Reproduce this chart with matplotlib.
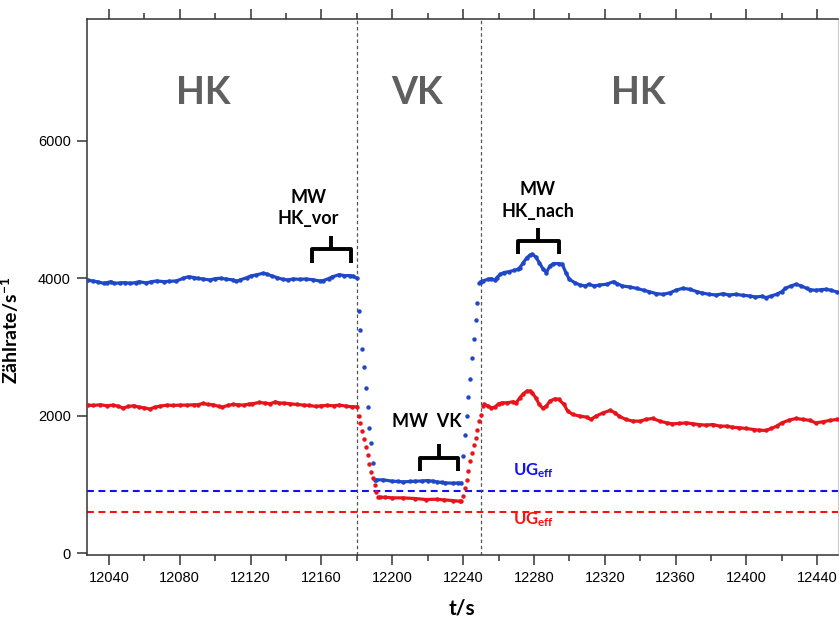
import matplotlib
matplotlib.use("Agg")
import matplotlib.pyplot as plt
from matplotlib.ticker import MultipleLocator

plt.rcParams['font.family'] = ['Liberation Sans', 'DejaVu Sans']
plt.rcParams['mathtext.fontset'] = 'custom'
plt.rcParams['mathtext.bf'] = 'Lato:bold'
plt.rcParams['mathtext.rm'] = 'Lato:bold'
plt.rcParams['mathtext.default'] = 'bf'

# --- data (t in s, rate in 1/s) ---
# blue series
blue_vor_t = [12028, 12031, 12034, 12037, 12039, 12041, 12043, 12046, 12049, 12052,
              12055, 12057, 12061, 12064, 12067, 12071, 12074, 12078, 12082, 12085,
              12088, 12090, 12093, 12097, 12100, 12103, 12106, 12110, 12112, 12114,
              12118, 12120, 12123, 12127, 12129, 12132, 12135, 12138, 12141, 12144,
              12148, 12151, 12155, 12159, 12161, 12164, 12166, 12170, 12173, 12176,
              12178, 12180]
blue_vor_v = [3971, 3961, 3946, 3927, 3937, 3951, 3927, 3932, 3937, 3927,
              3937, 3951, 3932, 3951, 3961, 3951, 3956, 3961, 4000, 4024,
              4010, 4000, 3990, 3976, 3995, 4000, 3990, 3976, 3956, 3976,
              4010, 4034, 4048, 4073, 4063, 4034, 4010, 3985, 3976, 3990,
              3985, 3990, 3980, 3961, 3966, 3995, 4019, 4053, 4039, 4039,
              4029, 4000]
blue_ab_t = [12181, 12182, 12183, 12184, 12185, 12186, 12187, 12188, 12189, 12190]
blue_ab_v = [3520, 3250, 2970, 2705, 2410, 2124, 1825, 1600, 1313, 1066]
blue_vk_t = [12191, 12195, 12200, 12203, 12206, 12210, 12213, 12217, 12220, 12223,
             12225, 12228, 12230, 12234, 12237, 12239]
blue_vk_v = [1068, 1068, 1048, 1045, 1039, 1044, 1048, 1052, 1058, 1048,
             1039, 1030, 1024, 1019, 1022, 1019]
blue_auf_t = [12240, 12241, 12242, 12243, 12244, 12245, 12246, 12247, 12248, 12249]
blue_auf_v = [1420, 1715, 1990, 2270, 2530, 2835, 3110, 3400, 3645, 3925]
blue_nach_t = [12250, 12251, 12254, 12256, 12258, 12259, 12261, 12263, 12266, 12269,
               12271, 12272, 12274, 12276, 12278, 12279, 12281, 12283, 12285, 12287,
               12289, 12291, 12294, 12296, 12298, 12300, 12303, 12306, 12309, 12311,
               12314, 12317, 12321, 12325, 12327, 12330, 12334, 12338, 12342, 12345,
               12349, 12353, 12357, 12360, 12364, 12368, 12372, 12375, 12379, 12383,
               12387, 12390, 12394, 12398, 12402, 12405, 12409, 12411, 12414, 12417,
               12420, 12422, 12425, 12428, 12431, 12434, 12436, 12439, 12442, 12445,
               12448, 12451]
blue_nach_v = [3950, 3961, 3985, 3995, 3971, 4010, 4058, 4083, 4097, 4117,
               4131, 4156, 4228, 4301, 4340, 4350, 4311, 4228, 4141, 4083,
               4180, 4214, 4214, 4204, 4083, 3985, 3937, 3903, 3888, 3913,
               3888, 3903, 3913, 3951, 3922, 3888, 3874, 3854, 3825, 3806,
               3777, 3767, 3791, 3825, 3854, 3840, 3806, 3786, 3767, 3757,
               3777, 3757, 3767, 3752, 3743, 3728, 3738, 3718, 3743, 3767,
               3806, 3854, 3888, 3913, 3888, 3854, 3835, 3825, 3835, 3840,
               3825, 3801]

# red series
red_vor_t = [12028, 12031, 12035, 12039, 12042, 12045, 12048, 12051, 12054, 12057,
             12060, 12063, 12066, 12069, 12073, 12076, 12080, 12084, 12088, 12090,
             12093, 12096, 12099, 12102, 12104, 12107, 12110, 12113, 12116, 12119,
             12121, 12125, 12128, 12131, 12134, 12136, 12139, 12142, 12146, 12150,
             12153, 12157, 12160, 12163, 12167, 12170, 12174, 12177, 12180]
red_vor_v = [2155, 2150, 2160, 2146, 2155, 2141, 2112, 2136, 2146, 2126,
             2116, 2097, 2126, 2141, 2155, 2150, 2155, 2155, 2160, 2160,
             2179, 2165, 2160, 2136, 2126, 2150, 2165, 2160, 2155, 2170,
             2175, 2194, 2184, 2175, 2204, 2184, 2184, 2175, 2165, 2155,
             2150, 2136, 2146, 2150, 2146, 2155, 2141, 2131, 2131]
red_ab_t = [12181, 12182, 12183, 12184, 12185, 12186, 12187, 12188, 12189, 12190,
            12191, 12192]
red_ab_v = [2003, 1900, 1785, 1668, 1552, 1425, 1299, 1183, 1095, 999, 892, 825]
red_vk_t = [12193, 12196, 12200, 12206, 12213, 12219, 12225, 12229, 12234, 12238]
red_vk_v = [815, 815, 806, 806, 796, 782, 786, 777, 767, 757]
red_auf_t = [12239, 12240, 12241, 12242, 12243, 12244, 12245, 12246, 12247, 12248,
             12249, 12250, 12251]
red_auf_v = [756, 829, 950, 1072, 1193, 1338, 1460, 1581, 1678, 1800, 1920, 2017, 2140]
red_nach_t = [12252, 12254, 12256, 12258, 12260, 12262, 12265, 12268, 12270, 12272,
              12274, 12276, 12278, 12279, 12281, 12283, 12285, 12287, 12289, 12292,
              12294, 12297, 12299, 12302, 12306, 12310, 12312, 12315, 12319, 12323,
              12326, 12328, 12332, 12336, 12340, 12343, 12347, 12351, 12355, 12358,
              12362, 12366, 12370, 12373, 12377, 12381, 12385, 12389, 12392, 12396,
              12400, 12404, 12407, 12411, 12414, 12417, 12420, 12424, 12428, 12432,
              12436, 12439, 12443, 12447, 12451]
red_nach_v = [2165, 2141, 2116, 2126, 2175, 2189, 2189, 2204, 2189, 2262,
              2320, 2359, 2359, 2335, 2262, 2165, 2107, 2141, 2214, 2248,
              2238, 2165, 2068, 2019, 1994, 1980, 1946, 1994, 2043, 2077,
              2043, 1994, 1946, 1922, 1922, 1946, 1961, 1922, 1897, 1883,
              1888, 1897, 1883, 1873, 1864, 1873, 1849, 1849, 1834, 1825,
              1815, 1800, 1791, 1786, 1815, 1849, 1897, 1936, 1961, 1946,
              1932, 1897, 1912, 1932, 1946]

ug_blue = 900
ug_red = 600
grenzen = [12180, 12250]
bereiche = ['HK', 'VK', 'HK']
bereich_t = [12093, 12214, 12339]

BLUE = '#1f48c8'
RED = '#e8141c'
GREY = '#333333'

fig = plt.figure(figsize=(8.39, 6.21), dpi=100)
ax = fig.add_axes([0.1033, 0.1063, 0.8955, 0.8626])

for t, v, c in [(blue_vor_t, blue_vor_v, BLUE), (blue_vk_t, blue_vk_v, BLUE),
                (blue_nach_t, blue_nach_v, BLUE), (red_vor_t, red_vor_v, RED),
                (red_vk_t, red_vk_v, RED), (red_nach_t, red_nach_v, RED)]:
    ax.plot(t, v, '-o', color=c, lw=2.3, ms=2.2, zorder=3)
for t, v, c in [(blue_ab_t, blue_ab_v, BLUE), (blue_auf_t, blue_auf_v, BLUE),
                (red_ab_t, red_ab_v, RED), (red_auf_t, red_auf_v, RED)]:
    ax.plot(t, v, 'o', color=c, ms=2.2, zorder=3)

ax.axhline(ug_blue, color='#1010ff', lw=1.5, ls=(0, (3.3, 2.2)), zorder=2)
ax.axhline(ug_red, color='#ff1010', lw=1.5, ls=(0, (3.3, 2.2)), zorder=2)
for g in grenzen:
    ax.axvline(g, color='#555555', lw=0.9, ls=(0, (2.8, 2.2)), zorder=2)

# region labels
for name, t in zip(bereiche, bereich_t):
    ax.text(t, 6695, name, ha='center', va='center', fontsize=27,
            fontweight='bold', family='Lato', color='#5f5f5f')

# annotations
txt = dict(ha='center', va='center', fontsize=13, fontweight='bold',
           family='Lato', color='black', linespacing=1.3)
ax.text(12152.5, 5017, 'MW\nHK_vor', **txt)
ax.text(12282, 5132, 'MW\nHK_nach', **txt)
ax.text(12219.5, 1924, 'MW  VK', **txt)


def klammer(l, r, y_fuss, y_balken, y_spitze):
    c = (l + r) / 2
    ax.plot([l, l, r, r], [y_fuss, y_balken, y_balken, y_fuss], color='black',
            lw=2.8, solid_joinstyle='round', solid_capstyle='butt', zorder=4)
    ax.plot([c, c], [y_balken, y_spitze], color='black', lw=2.8,
            solid_capstyle='butt', zorder=4)


klammer(12154.4, 12176.5, 4227, 4423, 4616)
klammer(12215.5, 12237.1, 1194, 1388, 1583)
klammer(12270.9, 12294.0, 4350, 4544, 4728)

ax.text(12268.3, 1197, r'UG$_{eff}$', ha='left', va='center', fontsize=12,
        fontweight='bold', family='Lato', color='#1010ff')
ax.text(12268.3, 485, r'UG$_{eff}$', ha='left', va='center', fontsize=12,
        fontweight='bold', family='Lato', color='#ff1010')

ax.set_xlim(12027.4, 12451.7)
ax.set_ylim(-25, 7767)
ax.xaxis.set_major_locator(MultipleLocator(40))
ax.xaxis.set_minor_locator(MultipleLocator(20))
ax.yaxis.set_major_locator(MultipleLocator(2000))
ax.tick_params(axis='x', which='both', top=True, direction='out', colors=GREY,
               labelcolor='black', labelsize=10.5, width=1.1)
ax.tick_params(axis='x', which='major', length=7.5, pad=4)
ax.tick_params(axis='x', which='minor', length=4)
ax.tick_params(axis='y', which='major', direction='out', length=7.5, width=1.1,
               colors=GREY, labelcolor='black', labelsize=10.5, pad=4)
for s in ['left', 'bottom', 'top']:
    ax.spines[s].set_color(GREY)
    ax.spines[s].set_linewidth(1.1)
ax.spines['right'].set_color('#cccccc')
ax.spines['right'].set_linewidth(0.8)

ax.set_xlabel('t/s', fontsize=15, fontweight='bold', family='Lato')
ax.xaxis.set_label_coords(0.499, -0.082)
ax.set_ylabel(r'Zählrate/s$^{-1}$', fontsize=14, fontweight='bold', family='Lato')
ax.yaxis.set_label_coords(-0.088, 0.42)

fig.savefig('out.png', dpi=100)
